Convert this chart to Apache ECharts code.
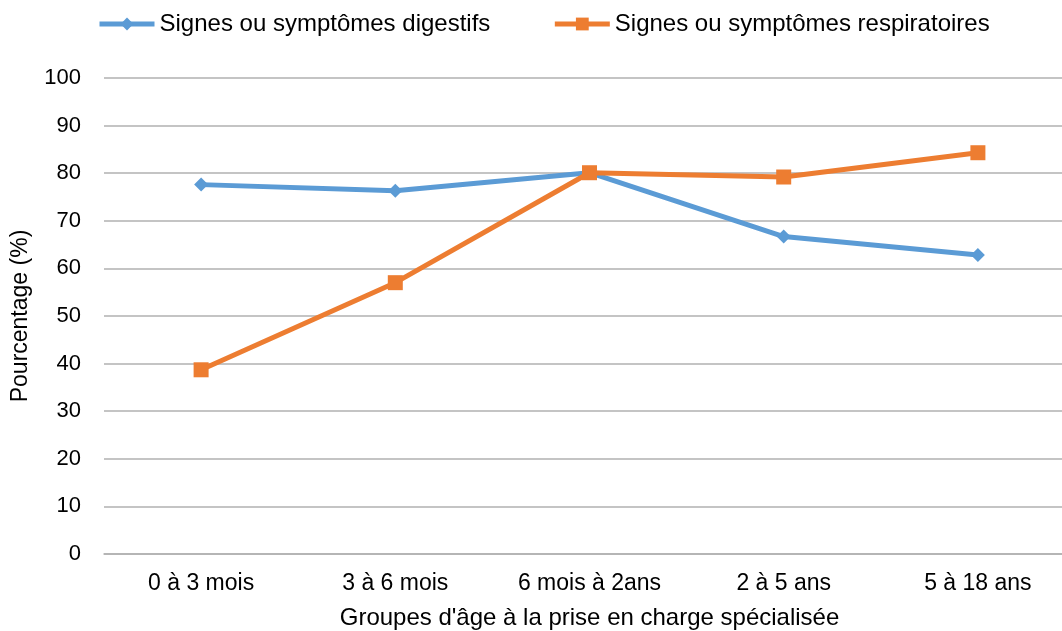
<!DOCTYPE html>
<html>
<head>
<meta charset="utf-8">
<script src="https://cdn.jsdelivr.net/npm/echarts@6/dist/echarts.min.js"></script>
<style>
html,body{margin:0;padding:0;background:#fff;}
#chart{width:1062px;height:631px;}
</style>
</head>
<body>
<div id="chart"></div>
<script>
// groupes d'âge
var categories = ['0 à 3 mois', '3 à 6 mois', '6 mois à 2ans', '2 à 5 ans', '5 à 18 ans'];
var digestifs = [77.6, 76.3, 80.1, 66.7, 62.8];
var respiratoires = [38.7, 57.0, 80.1, 79.2, 84.3];
var yTicks = [0, 10, 20, 30, 40, 50, 60, 70, 80, 90, 100];

var font = 'Liberation Sans, Arial, sans-serif';
var chart = echarts.init(document.getElementById('chart'));
chart.setOption({
    animation: false,
    textStyle: {fontFamily: font, color: '#000'},
    legend: {
        left: 97,
        top: 12,
        padding: 0,
        itemWidth: 55,
        itemHeight: 16,
        itemGap: 62,
        lineStyle: {width: 5},
        textStyle: {fontSize: 24, color: '#000', fontFamily: font},
        data: ['Signes ou symptômes digestifs', 'Signes ou symptômes respiratoires']
    },
    grid: {left: 104, top: 78, width: 971, height: 476, outerBoundsMode: 'none', containLabel: false},
    xAxis: {
        type: 'category',
        data: categories,
        boundaryGap: true,
        axisLine: {lineStyle: {color: '#b0b0b0', width: 1.5}},
        axisTick: {show: false},
        axisLabel: {fontSize: 23, color: '#000', margin: 18},
        name: "Groupes d'âge à la prise en charge spécialisée",
        nameLocation: 'middle',
        nameGap: 52,
        nameTextStyle: {fontSize: 24, color: '#000'}
    },
    yAxis: {
        type: 'value',
        min: yTicks[0],
        max: yTicks[yTicks.length - 1],
        interval: 10,
        axisLine: {show: false},
        axisTick: {show: false},
        splitLine: {lineStyle: {color: '#b0b0b0', width: 1.5}},
        axisLabel: {fontSize: 22, color: '#000', margin: 23},
        name: 'Pourcentage (%)',
        nameLocation: 'middle',
        nameGap: 72,
        nameTextStyle: {fontSize: 23, color: '#000'}
    },
    series: [
        {
            name: 'Signes ou symptômes digestifs',
            type: 'line',
            data: digestifs,
            symbol: 'diamond',
            symbolSize: [14, 14],
            lineStyle: {color: '#5b9bd5', width: 5},
            itemStyle: {color: '#5b9bd5'}
        },
        {
            name: 'Signes ou symptômes respiratoires',
            type: 'line',
            data: respiratoires,
            symbol: 'rect',
            symbolSize: [15, 15],
            lineStyle: {color: '#ed7d31', width: 5},
            itemStyle: {color: '#ed7d31'}
        }
    ]
});
</script>
</body>
</html>
